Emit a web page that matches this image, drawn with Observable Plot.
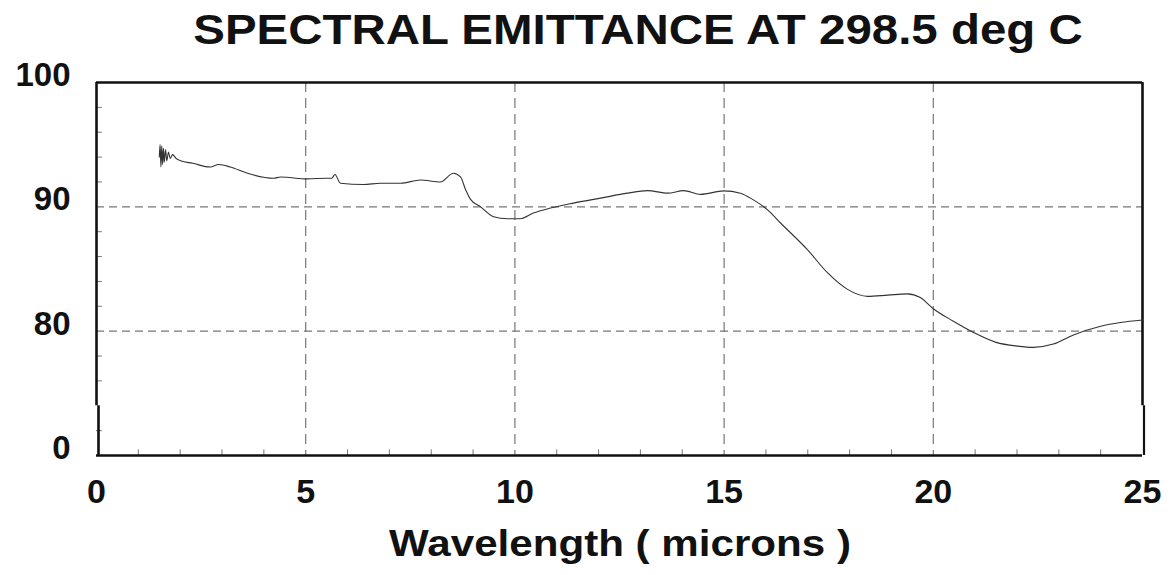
<!DOCTYPE html>
<html>
<head>
<meta charset="utf-8">
<script src="https://cdn.jsdelivr.net/npm/d3@7"></script>
<script src="https://cdn.jsdelivr.net/npm/@observablehq/plot@0.6"></script>
<style>
  html, body { margin: 0; padding: 0; background: #fff; }
  #wrap { position: relative; width: 1174px; height: 575px; overflow: hidden; font-family: "Liberation Sans", Arial, sans-serif; }
  .ttl { position: absolute; white-space: nowrap; font-weight: bold; line-height: 1; color: #111; }
  #title { left: 638px; top: 9px; font-size: 42px; transform: translateX(-50%) scaleX(1.13); }
  #xlabel { left: 620px; top: 526px; font-size: 36px; transform: translateX(-50%) scaleX(1.17); }
  #chart { position: absolute; left: 0; top: 56px; }
  #chart svg { background: transparent !important; }
</style>
</head>
<body>
<div id="wrap">
  <div id="chart"></div>
  <div id="title" class="ttl">SPECTRAL EMITTANCE AT 298.5 deg C</div>
  <div id="xlabel" class="ttl">Wavelength ( microns )</div>
</div>
<script>
// Wavelength (microns) and spectral emittance (%)
const wavelength = [
  1.50, 1.52, 1.54, 1.56, 1.58, 1.60, 1.62, 1.65, 1.68, 1.72, 1.76, 1.82, 1.90,
  2.01, 2.30, 2.72, 2.92, 3.20, 3.61, 4.23, 4.40, 5.04, 5.50, 5.62, 5.70, 5.83,
  6.38, 6.79, 7.27, 7.74, 8.22, 8.53, 8.70, 8.82, 8.94, 9.18, 9.49, 9.82, 10.13,
  10.44, 10.85, 11.40, 12.05, 12.69, 13.17, 13.65, 14.03, 14.44, 14.99, 15.39,
  15.70, 16.04, 16.35, 16.99, 17.47, 17.95, 18.43, 18.91, 19.38, 19.69, 20.00,
  20.48, 20.96, 21.50, 22.01, 22.39, 22.87, 23.35, 24.00, 24.47, 25.00
];
const emittance = [
  94.0, 95.0, 93.2, 94.9, 93.4, 94.7, 93.6, 94.6, 93.7, 94.4, 93.9, 94.2, 93.9,
  93.7, 93.5, 93.2, 93.4, 93.2, 92.7, 92.3, 92.4, 92.25, 92.3, 92.3, 92.6, 91.9,
  91.8, 91.9, 91.9, 92.16, 92.0, 92.7, 92.4, 91.4, 90.6, 90.0, 89.2, 89.04, 89.04,
  89.5, 89.9, 90.3, 90.7, 91.1, 91.3, 91.1, 91.3, 91.0, 91.28, 91.1,
  90.56, 89.76, 88.7, 86.56, 84.7, 83.36, 82.8, 82.9, 83.0, 82.7, 81.8,
  80.8, 79.9, 79.1, 78.8, 78.7, 78.96, 79.7, 80.4, 80.7, 80.9
];

const xTicks = [0, 5, 10, 15, 20, 25];
const xGrid = [5, 10, 15, 20];
const xMinor = [1, 2, 3, 4, 6, 7, 8, 9, 11, 12, 13, 14, 16, 17, 18, 19, 21, 22, 23, 24];
const yTicks = [70, 80, 90, 100];
const yTickLabels = ["0", "80", "90", "100"];
const yGrid = [80, 90];
const yMinor = [72, 76, 78, 82, 84, 86, 88, 92, 94, 96, 98];
const axisBreak = [74]; // broken-axis offset on the left and right frame lines

const data = wavelength.map((w, i) => ({w, e: emittance[i]}));

const chart = Plot.plot({
  width: 1174,
  height: 464,
  marginLeft: 96,
  marginRight: 32,
  marginTop: 26,
  marginBottom: 65,
  style: {fontFamily: "'Liberation Sans', Arial, sans-serif", fontWeight: "bold", color: "#111", background: "transparent"},
  x: {domain: [0, 25], axis: null},
  y: {domain: [70, 100], axis: null},
  marks: [
    // dashed grid
    Plot.ruleY(yGrid, {stroke: "#777", strokeWidth: 1.2, strokeDasharray: "8,5"}),
    Plot.ruleX(xGrid, {stroke: "#777", strokeWidth: 1.2, strokeDasharray: "10,6"}),
    // minor ticks (inside)
    Plot.ruleY(yMinor, {x1: 0, x2: 0.14, stroke: "#777", strokeWidth: 1}),
    Plot.ruleX(xMinor, {y1: 70, y2: 70.45, stroke: "#777", strokeWidth: 1}),
    // frame with axis breaks
    Plot.ruleY([100], {stroke: "#111", strokeWidth: 2.6}),
    Plot.ruleY([70], {stroke: "#111", strokeWidth: 2.6}),
    Plot.ruleX([0], {y1: axisBreak[0], y2: 100, stroke: "#111", strokeWidth: 2.6}),
    Plot.ruleX([0], {y1: 70, y2: axisBreak[0], dx: 2, stroke: "#111", strokeWidth: 2.6}),
    Plot.ruleX([25], {y1: axisBreak[0], y2: 100, stroke: "#111", strokeWidth: 2.6}),
    Plot.ruleX([25], {y1: 70, y2: axisBreak[0], dx: 1.5, stroke: "#111", strokeWidth: 2.2}),
    // curve
    Plot.line(data, {x: "w", y: "e", stroke: "#333", strokeWidth: 1.1, curve: "monotone-x"}),
    // tick labels
    Plot.axisX({ticks: xTicks, label: null, tickSize: 0, tickPadding: 23, fontSize: 34, fontWeight: "bold", tickFormat: d => String(d)}),
    Plot.axisY({ticks: yTicks, label: null, tickSize: 0, tickPadding: 26, dy: -7, fontSize: 33, fontWeight: "bold",
      tickFormat: d => yTickLabels[yTicks.indexOf(d)]})
  ]
});
document.getElementById("chart").appendChild(chart);
</script>
</body>
</html>
